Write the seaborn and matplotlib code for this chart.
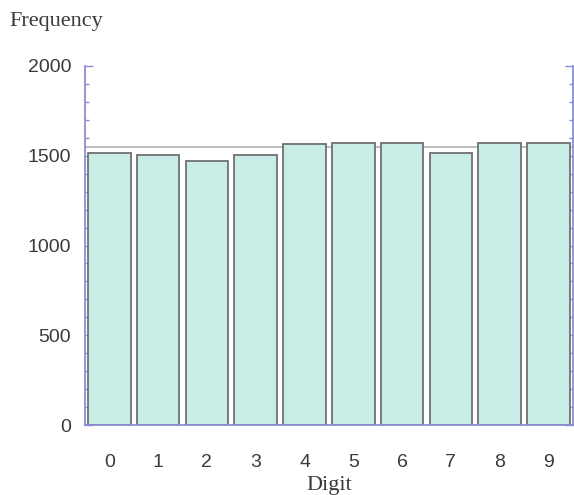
import pandas as pd
import matplotlib
matplotlib.use('Agg')
import matplotlib.pyplot as plt
import seaborn as sns
from matplotlib.ticker import MultipleLocator

# Values
digits = ['0', '1', '2', '3', '4', '5', '6', '7', '8', '9']
frequency = [1517, 1502, 1472, 1502, 1565, 1573, 1573, 1517, 1573, 1573]
expected = 1548

df = pd.DataFrame({'Digit': digits, 'Frequency': frequency})

sns.set_style('white')
plt.rcParams['font.family'] = ['Liberation Sans', 'DejaVu Sans']

spine_color = '#8c8cd6'
text_color = '#3a3a3a'

fig = plt.figure(figsize=(5.74, 4.95), dpi=100)
ax = fig.add_axes([0.148, 0.141, 0.850, 0.726])

ax.axhline(expected, color='#b8b8b8', linewidth=1.3, zorder=0)
sns.barplot(x='Digit', y='Frequency', data=df, color='#c8ece6', saturation=1,
            edgecolor='#707070', linewidth=1.3, width=0.87, ax=ax, zorder=2)

ax.set_xlim(-0.5, 9.5)
ax.set_ylim(0, 2000)
ax.yaxis.set_major_locator(MultipleLocator(500))
ax.yaxis.set_minor_locator(MultipleLocator(100))

for side in ['left', 'right', 'bottom']:
    ax.spines[side].set_color(spine_color)
    ax.spines[side].set_linewidth(1.3)
ax.spines['top'].set_visible(False)

ax.tick_params(axis='y', which='both', direction='in', left=True, right=True,
               color=spine_color, labelsize=14, labelcolor=text_color, pad=10)
ax.tick_params(axis='y', which='major', length=6, width=1)
ax.tick_params(axis='y', which='minor', length=3, width=1)
ax.tick_params(axis='x', bottom=False, labelsize=14, labelcolor=text_color, pad=17)

ax.set_xlabel('Digit', family='Liberation Serif', fontsize=16, color=text_color, labelpad=4)
ax.set_ylabel('')
fig.text(0.016, 0.956, 'Frequency', family='Liberation Serif', fontsize=16,
         color=text_color, ha='left', va='center')

fig.savefig('out.png', dpi=100, facecolor='white')
